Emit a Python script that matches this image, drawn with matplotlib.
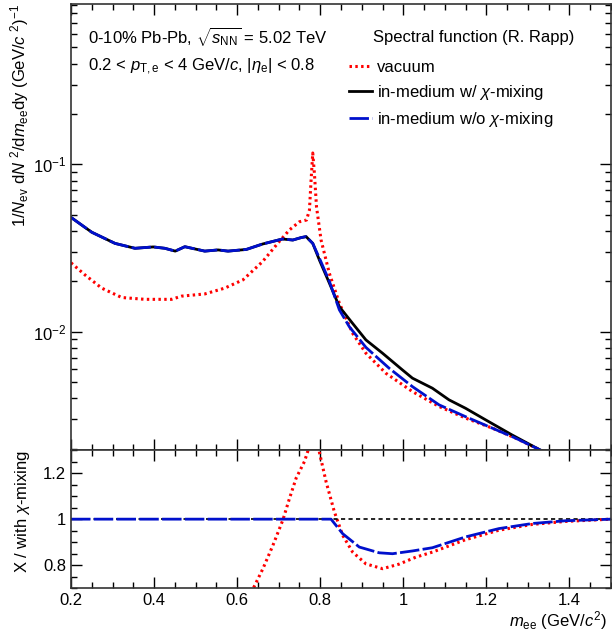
import matplotlib
matplotlib.use("Agg")
import matplotlib.pyplot as plt
from matplotlib.ticker import MultipleLocator, LogLocator, NullFormatter

plt.rcParams['font.family'] = ['Liberation Sans', 'DejaVu Sans']
plt.rcParams['mathtext.fontset'] = 'custom'
plt.rcParams['mathtext.rm'] = 'Liberation Sans'
plt.rcParams['mathtext.it'] = 'Liberation Sans:italic'
plt.rcParams['mathtext.bf'] = 'Liberation Sans:bold'

# spectra (upper panel)
x_mix = [0.2, 0.25, 0.306, 0.354, 0.398, 0.426, 0.451, 0.474, 0.522, 0.554, 0.578,
         0.622, 0.661, 0.709, 0.734, 0.754, 0.766, 0.774, 0.782, 0.798, 0.822, 0.846,
         0.878, 0.910, 0.950, 0.998, 1.022, 1.07, 1.11, 1.15, 1.198, 1.262, 1.326, 1.36]
y_mix = [0.0482, 0.0393, 0.0337, 0.0315, 0.0321, 0.0315, 0.0303, 0.0322, 0.0303, 0.0308, 0.0303,
         0.031, 0.0334, 0.0358, 0.0353, 0.0365, 0.037, 0.0353, 0.0337, 0.0268, 0.0195, 0.0141,
         0.0112, 0.00892, 0.00743, 0.0059, 0.00527, 0.00459, 0.00391, 0.00348, 0.00297, 0.00241, 0.00198, 0.0018]

x_nomix = [0.2, 0.25, 0.306, 0.354, 0.398, 0.426, 0.451, 0.474, 0.522, 0.554, 0.578,
           0.622, 0.661, 0.709, 0.734, 0.754, 0.766, 0.774, 0.782, 0.798, 0.822, 0.846,
           0.870, 0.910, 0.966, 1.022, 1.086, 1.15, 1.214, 1.27, 1.326, 1.36]
y_nomix = [0.0482, 0.0393, 0.0337, 0.0315, 0.0321, 0.0315, 0.0303, 0.0322, 0.0303, 0.0308, 0.0303,
           0.031, 0.0334, 0.0358, 0.0353, 0.0365, 0.037, 0.0353, 0.0337, 0.0275, 0.0200, 0.0135,
           0.0107, 0.00805, 0.00604, 0.00469, 0.00365, 0.0031, 0.00265, 0.00231, 0.00198, 0.0018]

x_vac = [0.2, 0.234, 0.274, 0.322, 0.378, 0.442, 0.466, 0.522, 0.570, 0.614, 0.661,
         0.701, 0.726, 0.750, 0.767, 0.774, 0.778, 0.782, 0.786, 0.791, 0.802, 0.822,
         0.846, 0.878, 0.910, 0.958, 1.022, 1.086, 1.15, 1.214, 1.27, 1.326, 1.36]
y_vac = [0.0258, 0.0218, 0.0182, 0.0160, 0.0156, 0.0156, 0.0163, 0.0168, 0.0182, 0.0204, 0.0262,
         0.0345, 0.0406, 0.0454, 0.0465, 0.0533, 0.0805, 0.117, 0.0883, 0.0558, 0.0353, 0.0223,
         0.0148, 0.00977, 0.00743, 0.00564, 0.00438, 0.00357, 0.00304, 0.00265, 0.00231, 0.00198, 0.0018]

# ratios to "with chi-mixing" (lower panel)
x_ratio_mix = [0.2, 1.5]
r_mix = [1.0, 1.0]

x_ratio_nomix = [0.2, 0.826, 0.854, 0.894, 0.942, 0.974, 1.022, 1.07, 1.15, 1.23, 1.31, 1.39, 1.5]
r_nomix = [1.0, 1.0, 0.937, 0.879, 0.854, 0.850, 0.862, 0.876, 0.923, 0.959, 0.981, 0.993, 1.0]

x_ratio_vac = [0.6, 0.634, 0.662, 0.686, 0.71, 0.726, 0.742, 0.762, 0.770, 0.775, 0.782, 0.792,
               0.798, 0.814, 0.834, 0.854, 0.878, 0.910, 0.950, 0.990, 1.030, 1.07, 1.15, 1.23,
               1.31, 1.39, 1.5]
r_vac = [0.6, 0.682, 0.785, 0.886, 0.996, 1.090, 1.178, 1.250, 1.294, 1.6, 3.3, 1.6,
         1.29, 1.163, 1.032, 0.930, 0.857, 0.806, 0.785, 0.805, 0.835, 0.857, 0.911, 0.952,
         0.977, 0.990, 1.0]

red = '#ff0000'
blue = '#0010cc'

fig = plt.figure(figsize=(6.12, 6.35), dpi=100)
ax1 = fig.add_axes([71/612, 1-450/635, 540/612, 446/635])
ax2 = fig.add_axes([71/612, 1-588.3/635, 540/612, 138.3/635])

# upper panel
ax1.plot(x_vac, y_vac, color=red, lw=2.2, ls=(0, (0.8, 1.1)), label='vacuum')
ax1.plot(x_mix, y_mix, color='black', lw=2, label=r'in-medium w/ $\chi$-mixing')
ax1.plot(x_nomix, y_nomix, color=blue, lw=2, dashes=(7, 1.2), label=r'in-medium w/o $\chi$-mixing')
ax1.set_yscale('log')
ax1.set_xlim(0.2, 1.5)
ax1.set_ylim(0.00196, 0.91)
ax1.yaxis.set_major_locator(LogLocator(base=10, numticks=10))
ax1.yaxis.set_minor_locator(LogLocator(base=10, subs=range(2, 10), numticks=20))
ax1.yaxis.set_minor_formatter(NullFormatter())
ax1.tick_params(labelbottom=False)
ax1.set_ylabel(r'1/$N_{\mathrm{ev}}$ d$N$ $^{2}$/d$m_{\mathrm{ee}}$dy (GeV/$c$ $^{2}$)$^{-1}$',
               fontsize=12, loc='top', labelpad=1)

ax1.text(0.032, 0.927, r'0-10% Pb-Pb, $\sqrt{s_{\mathrm{NN}}}$ = 5.02 TeV', transform=ax1.transAxes,
         fontsize=12, va='center')
ax1.text(0.032, 0.859, r'0.2 < $p_{\mathrm{T,e}}$ < 4 GeV/$c$, |$\eta_{\mathrm{e}}$| < 0.8',
         transform=ax1.transAxes, fontsize=12, va='center')
ax1.text(0.56, 0.924, 'Spectral function (R. Rapp)', transform=ax1.transAxes,
         fontsize=12, va='center')
ax1.legend(loc='upper left', bbox_to_anchor=(0.493, 0.9), frameon=False, fontsize=12,
           handlelength=1.4, handletextpad=0.3, labelspacing=0.48, borderpad=0.2)

# lower panel
ax2.plot(x_ratio_vac, r_vac, color=red, lw=2.2, ls=(0, (0.8, 1.1)))
ax2.plot(x_ratio_mix, r_mix, color='black', lw=1.2, ls=(0, (2.5, 2)))
ax2.plot(x_ratio_nomix, r_nomix, color=blue, lw=2, dashes=(7, 1.2))
ax2.set_xlim(0.2, 1.5)
ax2.set_ylim(0.7, 1.3)
ax2.xaxis.set_major_locator(MultipleLocator(0.2))
ax2.xaxis.set_minor_locator(MultipleLocator(0.05))
ax2.yaxis.set_major_locator(MultipleLocator(0.2))
ax2.yaxis.set_minor_locator(MultipleLocator(0.05))
ax2.set_yticks([0.8, 1.0, 1.2])
ax2.set_yticklabels(['0.8', '1', '1.2'])
ax2.set_xticks([0.2, 0.4, 0.6, 0.8, 1.0, 1.2, 1.4])
ax2.set_xticklabels(['0.2', '0.4', '0.6', '0.8', '1', '1.2', '1.4'])
ax2.set_xlabel(r'$m_{\mathrm{ee}}$ (GeV/$c^{2}$)', fontsize=12)
ax2.xaxis.set_label_coords(0.993, -0.15)
ax2.xaxis.label.set_horizontalalignment('right')
ax2.set_ylabel(r'X / with $\chi$-mixing', fontsize=12, loc='top', labelpad=8)

ax1.xaxis.set_major_locator(MultipleLocator(0.2))
ax1.xaxis.set_minor_locator(MultipleLocator(0.05))

for ax in (ax1, ax2):
    ax.tick_params(which='both', direction='in', top=True, right=True, labelsize=12, width=1)
    ax.tick_params(which='major', length=8)
    ax.tick_params(which='minor', length=4)
    for s in ax.spines.values():
        s.set_linewidth(1.2)
        s.set_color('#333333')

fig.savefig('out.png', dpi=100)
